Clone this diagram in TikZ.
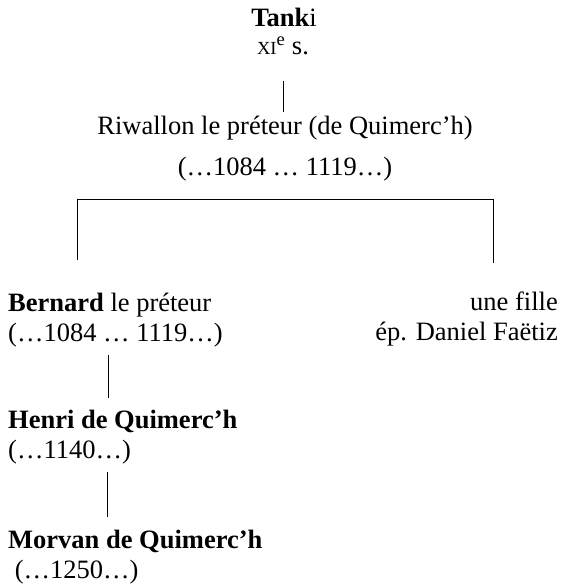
\documentclass[tikz,border=0pt]{standalone}
\usepackage{fontspec}
\setmainfont{Liberation Serif}
\usetikzlibrary{positioning,calc}

\begin{document}
\begin{tikzpicture}[x=1pt,y=-1pt,
  person/.style={inner sep=0pt,font=\fontsize{26.5}{30}\selectfont},
  kin/.style={draw=black,line width=0.9pt},
]
\useasboundingbox (0,0) rectangle (561,585);
% generation 0
\node[person,anchor=base] (tanki) at (284,27) {\textbf{Tank}i};
\node[person,anchor=base] (siecle) at (283,55)
  {{\fontsize{18.5}{20}\selectfont XI}\textsuperscript{e} s.};
% generation 1
\node[person,anchor=north,align=center] (riwallon) at (285,116) {
  Riwallon le préteur (de Quimerc’h)\\[11pt]
  (…1084 … 1119…)
};
% generation 2
\node[person,anchor=north west,align=left] (bernard) at (8,293) {
  \textbf{Bernard} le préteur\\
  (…1084 … 1119…)
};
\node[person,anchor=north east,align=right] (fille) at (558,292) {
  une fille\\
  ép. Daniel Faëtiz
};
% generation 3 and 4
\node[person,anchor=north west,align=left] (henri) at (8,410) {
  \textbf{Henri de Quimerc’h}\\
  (…1140…)
};
\node[person,anchor=north west,align=left] (morvan) at (8,530) {
  \textbf{Morvan de Quimerc’h}\\
  \ (…1250…)
};
% bracket corners
\coordinate (brL) at (77,199);
\coordinate (brR) at (493,199);
% connectors
\draw[kin,shorten <=25pt,shorten >=4pt] (siecle.south) -- (siecle.south |- riwallon.north);
\draw[kin] ([yshift=33pt]brL |- bernard.north) -- (brL) -- (brR) -- ([yshift=29pt]brR |- fille.north);
\draw[kin,shorten <=8pt,shorten >=12pt] ([xshift=100pt]bernard.south west) -- ([xshift=100pt]bernard.south west |- henri.north);
\draw[kin,shorten <=8pt,shorten >=13pt] ([xshift=99pt]henri.south west) -- ([xshift=99pt]henri.south west |- morvan.north);
\end{tikzpicture}
\end{document}
